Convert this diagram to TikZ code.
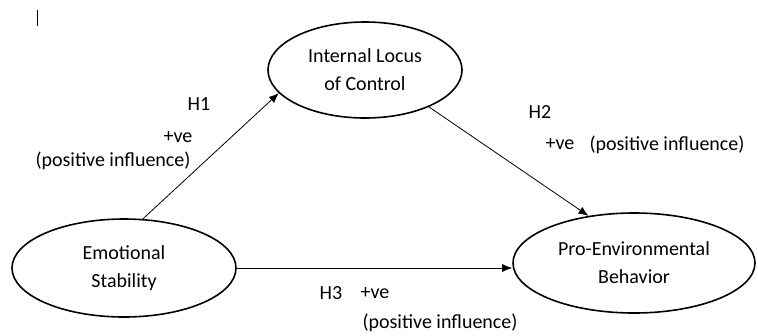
\documentclass[tikz,border=0pt]{standalone}
\usepackage{fontspec}
\setmainfont{Carlito}
\usetikzlibrary{shapes.geometric,arrows.meta}
\begin{document}
\begin{tikzpicture}[x=1pt,y=-1pt,
  construct/.style={draw,ellipse,line width=1.6pt,inner sep=0pt,align=center,font=\fontsize{20}{28}\selectfont},
  link/.style={draw,line width=0.8pt,-{Latex[length=10,width=8]}},
  lbl/.style={inner sep=0pt,font=\fontsize{20}{24}\selectfont}]
\useasboundingbox (0,0) rectangle (758,335);
\draw[line width=0.9pt] (37,10) -- (37,26);
\node[construct,minimum width=194,minimum height=96] (ilc) at (365,70) {Internal Locus\\of Control};
\node[construct,minimum width=224,minimum height=98] (es) at (124,268) {Emotional\\Stability};
\node[construct,minimum width=242,minimum height=100] (pro) at (634,263) {Pro-Environmental\\Behavior};
\draw[link] (es.69) -- (ilc.195);
\draw[link] (ilc.-30) -- (pro.134);
\draw[link] (es.east) -- (es.east -| pro.west);
\node[lbl] (h1) at (199,104) {H1};
\node[lbl] (v1) at (178,137) {+ve};
\node[lbl] (p1) at (113,161) {(positive influence)};
\node[lbl] (h2) at (540,112) {H2};
\node[lbl] (v2) at (560,144) {+ve};
\node[lbl] (p2) at (667,145) {(positive influence)};
\node[lbl] (h3) at (331,293) {H3};
\node[lbl] (v3) at (375,293) {+ve};
\node[lbl] (p3) at (440,323) {(positive influence)};
\end{tikzpicture}
\end{document}
